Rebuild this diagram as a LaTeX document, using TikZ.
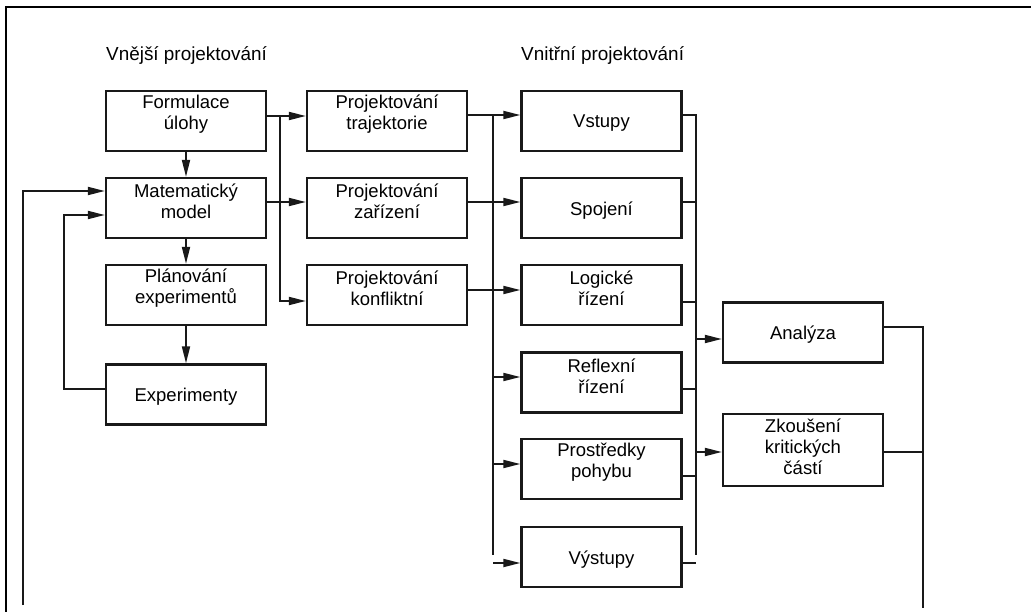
\documentclass[tikz,border=0pt]{standalone}
\usepackage{fontspec}
\setmainfont{Liberation Sans}
\usetikzlibrary{arrows.meta}

\begin{document}
\begin{tikzpicture}[x=1pt,y=-1pt,
  box/.style={draw=black!90,line width=2.3pt,minimum width=160pt,minimum height=60pt,inner sep=0pt},
  txt/.style={align=center,font=\fontsize{18.5}{21}\selectfont,inner sep=0pt},
  head/.style={align=center,font=\fontsize{18.9}{21}\selectfont,inner sep=0pt},
  txtone/.style={txt,yshift=-2.5pt},
  txttwo/.style={txt,yshift=6.5pt},
  txtthree/.style={txt,yshift=3pt},
  wire/.style={line width=1.9pt,draw=black!90},
  arr/.style={wire,-{Triangle[length=17pt,width=8pt]}},
  frame/.style={line width=2.8pt}]
\useasboundingbox (0,0) rectangle (1031,612);

% page frame (top and left edges)
\draw[frame] (1031,7) -| (6,612);

% column headings
\node[head,anchor=base west] (ext) at (106,60.5) {Vnější projektování};
\node[head,anchor=base west] (int) at (521,60.5) {Vnitřní projektování};

% boxes
\node[box] (for) at (186,121) {};
\node[box] (mat) at (186,208) {};
\node[box] (pla) at (186,295) {};
\node[box] (exp) at (186,394.5) {};
\node[box] (tra) at (387,121) {};
\node[box] (zar) at (387,208) {};
\node[box] (kon) at (387,295) {};
\node[box] (vst) at (601.5,121) {};
\node[box] (spo) at (601.5,208) {};
\node[box] (log) at (601.5,295) {};
\node[box] (ref) at (601.5,382.5) {};
\node[box] (pro) at (601.5,469) {};
\node[box] (vys) at (601.5,557) {};
\node[box] (ana) at (803,332.5) {};
\node[box,minimum height=72pt] (zko) at (803,450) {};

% box texts
\node[txttwo] (for-t) at (for) {Formulace\\úlohy};
\node[txttwo] (mat-t) at (mat) {Matematický\\model};
\node[txttwo] (pla-t) at (pla) {Plánování\\experimentů};
\node[txtone] (exp-t) at (exp) {Experimenty};
\node[txttwo] (tra-t) at (tra) {Projektování\\trajektorie};
\node[txttwo] (zar-t) at (zar) {Projektování\\zařízení};
\node[txttwo] (kon-t) at (kon) {Projektování\\konfliktní};
\node[txtone] (vst-t) at (vst) {Vstupy};
\node[txtone] (spo-t) at (spo) {Spojení};
\node[txttwo] (log-t) at (log) {Logické\\řízení};
\node[txttwo] (ref-t) at (ref) {Reflexní\\řízení};
\node[txttwo] (pro-t) at (pro) {Prostředky\\pohybu};
\node[txtone] (vys-t) at (vys) {Výstupy};
\node[txtone] (ana-t) at (ana) {Analýza};
\node[txtthree] (zko-t) at (zko) {Zkoušení\\kritických\\částí};

% connection ports
\coordinate (for-o) at ([yshift=5pt]for.east);
\coordinate (tra-i) at ([yshift=5pt]tra.west);
\coordinate (mat-o) at ([yshift=6pt]mat.east);
\coordinate (zar-i) at ([yshift=6pt]zar.west);
\coordinate (kon-i) at ([yshift=-6pt]kon.west);
\coordinate (tra-o) at ([yshift=6pt]tra.east);
\coordinate (zar-o) at ([yshift=6pt]zar.east);
\coordinate (kon-o) at ([yshift=5pt]kon.east);
\coordinate (vst-i) at ([yshift=6pt]vst.west);
\coordinate (spo-i) at ([yshift=6pt]spo.west);
\coordinate (log-i) at ([yshift=5pt]log.west);
\coordinate (ref-i) at ([yshift=5.5pt]ref.west);
\coordinate (pro-i) at ([yshift=5pt]pro.west);
\coordinate (vys-i) at ([yshift=-6pt]vys.west);
\coordinate (vst-o) at ([yshift=6pt]vst.east);
\coordinate (spo-o) at ([yshift=6pt]spo.east);
\coordinate (log-o) at ([yshift=-7pt]log.east);
\coordinate (ref-o) at ([yshift=-6.5pt]ref.east);
\coordinate (pro-o) at ([yshift=-7pt]pro.east);
\coordinate (vys-o) at ([yshift=-6pt]vys.east);
\coordinate (ana-i) at ([yshift=-6.5pt]ana.west);
\coordinate (zko-i) at ([yshift=-2pt]zko.west);
\coordinate (ana-o) at ([yshift=5.5pt]ana.east);
\coordinate (zko-o) at ([yshift=-2pt]zko.east);
\coordinate (b1) at (280,0);
\coordinate (b2end) at (493,555);
\coordinate (b3end) at (696,555);
\coordinate (fbl) at (23,605);
\coordinate (fbr) at (923,608);

% outer design chain
\draw[arr] (for) -- (mat);
\draw[arr] (mat) -- (pla);
\draw[arr] (pla) -- (exp);
\draw[arr] ([yshift=5.5pt]exp.west) -- ++(-41,0) |- ([yshift=-7pt]mat.west);
\draw[arr] (fbl) |- ([yshift=17pt]mat.west);

% outer to inner design
\draw[arr] (for-o) -- (tra-i);
\draw[arr] (for-o -| b1) |- (kon-i);
\draw[arr] (mat-o) -- (zar-i);

% inner design distribution
\draw[arr] (tra-o) -- (vst-i);
\draw[wire] (tra-o -| b2end) -- (b2end);
\draw[arr] (zar-o) -- (spo-i);
\draw[arr] (kon-o) -- (log-i);
\draw[arr] (ref-i -| b2end) -- (ref-i);
\draw[arr] (pro-i -| b2end) -- (pro-i);
\draw[arr] (vys-i -| b2end) -- (vys-i);

% collection into analysis and testing
\draw[wire] (vst-o) -| (b3end);
\draw[wire] (spo-o) -- (spo-o -| b3end);
\draw[wire] (log-o) -- (log-o -| b3end);
\draw[wire] (ref-o) -- (ref-o -| b3end);
\draw[wire] (pro-o) -- (pro-o -| b3end);
\draw[wire] (vys-o) -- (vys-o -| b3end);
\draw[arr] (ana-i -| b3end) -- (ana-i);
\draw[arr] (zko-i -| b3end) -- (zko-i);

% results leaving downwards
\draw[wire] (ana-o) -| (fbr);
\draw[wire] (zko-o) -- (zko-o -| fbr);
\end{tikzpicture}
\end{document}
